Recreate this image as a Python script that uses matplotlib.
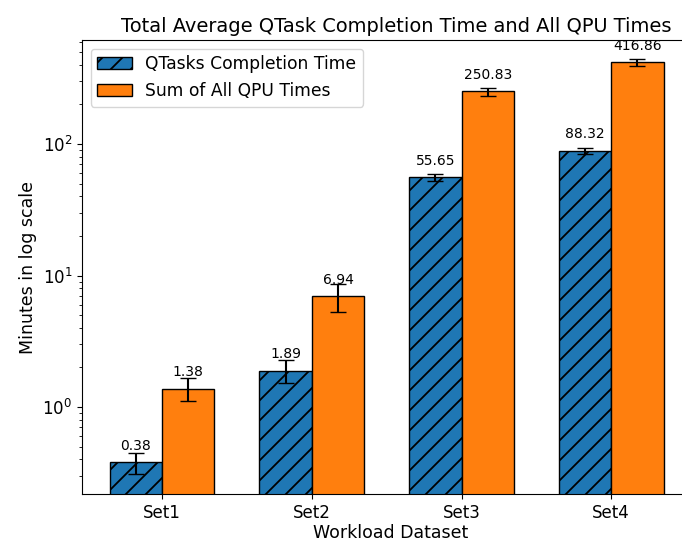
import matplotlib
matplotlib.use("Agg")
import matplotlib.pyplot as plt
import numpy as np

categories = ["Set1", "Set2", "Set3", "Set4"]
qtask_times = [0.38, 1.89, 55.65, 88.32]
qtask_err = [0.07, 0.38, 3.5, 4.6]
qpu_times = [1.38, 6.94, 250.83, 416.86]
qpu_err = [0.27, 1.7, 18.0, 25.0]

DPI = 120
S = 100.0 / DPI
for k in ["axes.linewidth", "lines.linewidth", "patch.linewidth",
          "lines.markeredgewidth",
          "xtick.major.size", "xtick.minor.size", "ytick.major.size", "ytick.minor.size",
          "xtick.major.width", "xtick.minor.width", "ytick.major.width", "ytick.minor.width",
          "xtick.major.pad", "xtick.minor.pad", "ytick.major.pad", "ytick.minor.pad",
          "axes.titlepad", "axes.labelpad"]:
    plt.rcParams[k] = plt.rcParams[k] * S
plt.rcParams["hatch.linewidth"] = 1.3 * S

fig = plt.figure(figsize=(682 / DPI, 543 / DPI), dpi=DPI)
ax = fig.add_axes([82/682, (543-494)/543, (700-82)/682, (494-40)/543])
ax.spines["right"].set_visible(False)

x = np.arange(len(categories))
w = 0.35
b1 = ax.bar(x - w/2, qtask_times, w, yerr=qtask_err, capsize=6*S,
            color="#1f77b4", edgecolor="black", hatch="//",
            label="QTasks Completion Time")
b2 = ax.bar(x + w/2, qpu_times, w, yerr=qpu_err, capsize=6*S,
            color="#ff7f0e", edgecolor="black",
            label="Sum of All QPU Times")
ax.set_yscale("log")
ax.set_ylim(0.218, 618)
ax.set_xlim(-0.535, 3.593)

for xs, vals in ((x - w/2, qtask_times), (x + w/2, qpu_times)):
    for xi, v in zip(xs, vals):
        ax.annotate(f"{v:.2f}", (xi, v), xytext=(0, 7*S), textcoords="offset points",
                    ha="center", va="bottom", fontsize=10*S)

ax.set_xticks(x)
ax.set_xticklabels(categories, fontsize=12*S)
ax.tick_params(axis="y", labelsize=12*S)
ax.set_xlabel("Workload Dataset", fontsize=12.5*S, labelpad=2*S)
ax.set_ylabel("Minutes in log scale", fontsize=12.5*S)
ax.set_title("Total Average QTask Completion Time and All QPU Times", fontsize=14*S, x=0.508)
ax.legend(loc="upper left", fontsize=12.3*S)

fig.savefig("out.png", dpi=DPI)
